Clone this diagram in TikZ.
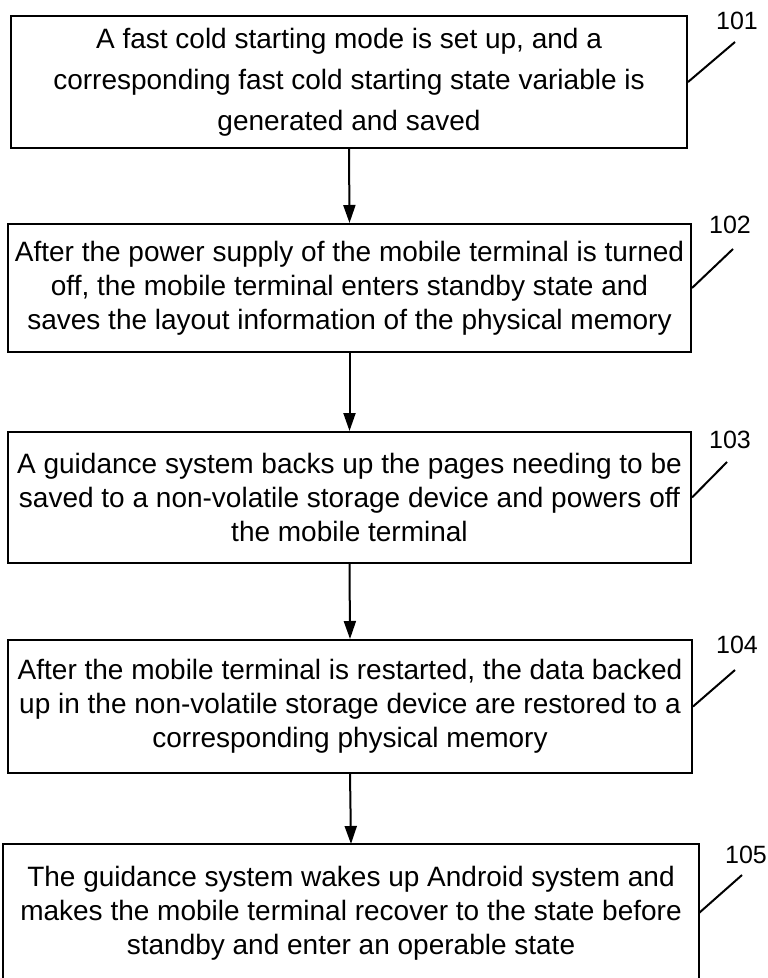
\documentclass[tikz,border=0pt]{standalone}
\usepackage{fontspec}
\setmainfont{Liberation Sans}
\usetikzlibrary{arrows.meta, positioning}

\begin{document}
\begin{tikzpicture}[x=0.5pt, y=-0.5pt, line width=1pt,
        stepbox/.style={draw, align=center, inner sep=0pt, font=\fontsize{14}{17}\selectfont},
        steplabel/.style={font=\fontsize{12.5}{14}\selectfont, inner sep=0pt},
        flow/.style={-{Triangle[length=9pt, width=6pt]}}]
            \useasboundingbox (0,0) rectangle (767,978);
            % Steps
            \node[stepbox, minimum width=338pt, minimum height=66pt, font=\fontsize{14}{20.5}\selectfont] (s101) at (349,82)
                {A fast cold starting mode is set up, and a\\corresponding fast cold starting state variable is\\generated and saved};
            \node[stepbox, minimum width=341.5pt, minimum height=64pt] (s102) at (349.5,288)
                {After the power supply of the mobile terminal is turned\\off, the mobile terminal enters standby state and\\saves the layout information of the physical memory};
            \node[stepbox, minimum width=341.5pt, minimum height=65.5pt] (s103) at (349.5,497.5)
                {A guidance system backs up the pages needing to be\\saved to a non-volatile storage device and powers off\\the mobile terminal};
            \node[stepbox, minimum width=342pt, minimum height=66.5pt] (s104) at (350,706.5)
                {After the mobile terminal is restarted, the data backed\\up in the non-volatile storage device are restored to a\\corresponding physical memory};
            % last box runs off the bottom edge
            \node[stepbox, draw=none, minimum width=347pt, minimum height=68pt] (s105) at (351,913)
                {The guidance system wakes up Android system and\\makes the mobile terminal recover to the state before\\standby and enter an operable state};
            \draw ([yshift=-4pt]s105.south west) -- (s105.north west) -- (s105.north east) -- ([yshift=-4pt]s105.south east);
            % Reference numbers
            \node[steplabel] (n101) at (737,21) {101};
            \node[steplabel] (n102) at (730,225) {102};
            \node[steplabel] (n103) at (730,440) {103};
            \node[steplabel] (n104) at (737,645) {104};
            \node[steplabel] (n105) at (746,855) {105};
            \coordinate (t101) at (735,42);
            \coordinate (t102) at (733,249);
            \coordinate (t103) at (727,462);
            \coordinate (t104) at (735,670);
            \coordinate (t105) at (742,875);
            \draw (s101.east) -- (t101);
            \draw (s102.east) -- (t102);
            \draw (s103.east) -- (t103);
            \draw (s104.east) -- (t104);
            \draw (s105.east) -- (t105);
            % Flow
            \draw[flow] (s101.south) -- (s102.north);
            \draw[flow] (s102.south) -- (s103.north);
            \draw[flow] (s103.south) -- (s104.north);
            \draw[flow] (s104.south) -- (s105.north);
        \end{tikzpicture}
\end{document}
